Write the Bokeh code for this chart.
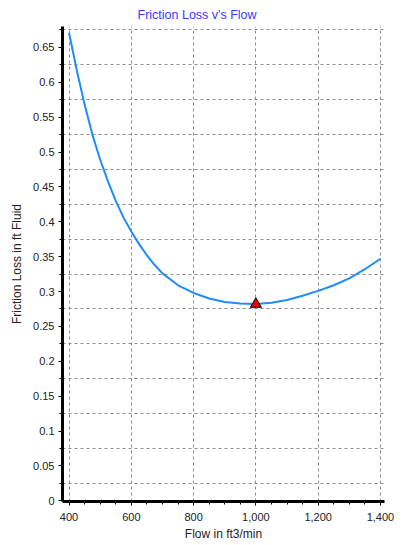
from bokeh.plotting import figure
from bokeh.models import (SingleIntervalTicker, FixedTicker, NumeralTickFormatter,
                          CustomJSTickFormatter, Range1d)
from bokeh.embed import file_html
from bokeh.resources import INLINE

# Data
flow = [400, 425, 450, 475, 500, 525, 550, 575, 600, 625, 650, 675, 700, 750,
        800, 850, 900, 950, 1000, 1050, 1100, 1150, 1200, 1250, 1300, 1350, 1400]
friction_loss = [0.671, 0.617, 0.568, 0.525, 0.489, 0.458, 0.430, 0.406, 0.386,
                 0.368, 0.352, 0.338, 0.326, 0.309, 0.298, 0.290, 0.285, 0.283,
                 0.282, 0.284, 0.288, 0.294, 0.301, 0.309, 0.319, 0.332, 0.347]
marker_flow = [1000]
marker_loss = [0.282]
y_grid_positions = [0.025, 0.075, 0.125, 0.175, 0.225, 0.275, 0.325, 0.375,
                    0.425, 0.475, 0.525, 0.575, 0.625, 0.675]

title_text = "Friction Loss v's Flow"
x_label = "Flow in ft3/min"
y_label = "Friction Loss in ft Fluid"

FONT = "Liberation Sans"

p = figure(width=395, height=543, output_backend="svg", toolbar_location=None,
           x_range=Range1d(379, 1413), y_range=Range1d(-0.001, 0.68),
           min_border_left=62, min_border_right=11, min_border_top=0,
           min_border_bottom=10)
p.outline_line_color = None
p.background_fill_color = "white"
p.border_fill_color = "white"

p.title.text = title_text
p.title.text_color = "#3a3aff"
p.title.text_font = FONT
p.title.text_font_size = "12.5px"
p.title.text_font_style = "normal"
p.title.align = "left"
p.title.offset = 75
p.title.standoff = 10

# axes
p.xaxis.ticker = SingleIntervalTicker(interval=200, num_minor_ticks=4)
p.xaxis.formatter = NumeralTickFormatter(format="0,0")
p.yaxis.ticker = SingleIntervalTicker(interval=0.05, num_minor_ticks=2)
p.yaxis.formatter = CustomJSTickFormatter(code="return String(parseFloat(tick.toFixed(3)));")

for ax in (p.xaxis, p.yaxis):
    ax.axis_line_color = "black"
    ax.axis_line_width = 3
    ax.major_tick_line_color = "black"
    ax.minor_tick_line_color = "black"
    ax.major_tick_in = 0
    ax.minor_tick_in = 0
    ax.major_tick_out = 4
    ax.minor_tick_out = 3
    ax.major_label_text_font = FONT
    ax.major_label_text_font_size = "11px"
    ax.major_label_text_color = "#222222"
    ax.axis_label_text_font = FONT
    ax.axis_label_text_font_size = "12px"
    ax.axis_label_text_font_style = "normal"
    ax.axis_label_text_color = "#222222"

p.xaxis.axis_label = x_label
p.yaxis.axis_label = y_label
p.xaxis.major_label_standoff = 7
p.yaxis.major_label_standoff = 4
p.xaxis.axis_label_standoff = 3
p.yaxis.axis_label_standoff = 6

# grids
p.xgrid.ticker = SingleIntervalTicker(interval=200)
p.xgrid.grid_line_color = "#8c8c8c"
p.xgrid.grid_line_dash = "3 3"
p.xgrid.grid_line_width = 1
p.ygrid.ticker = FixedTicker(ticks=y_grid_positions)
p.ygrid.grid_line_color = "#8c8c8c"
p.ygrid.grid_line_dash = "3 3"
p.ygrid.grid_line_width = 1

p.line(flow, friction_loss, line_color="#1e8cff", line_width=2)
p.scatter(marker_flow, marker_loss, marker="triangle", size=11,
          fill_color="#ee0000", line_color="black", line_width=1)

open("out.html", "w").write(file_html(p, INLINE))
